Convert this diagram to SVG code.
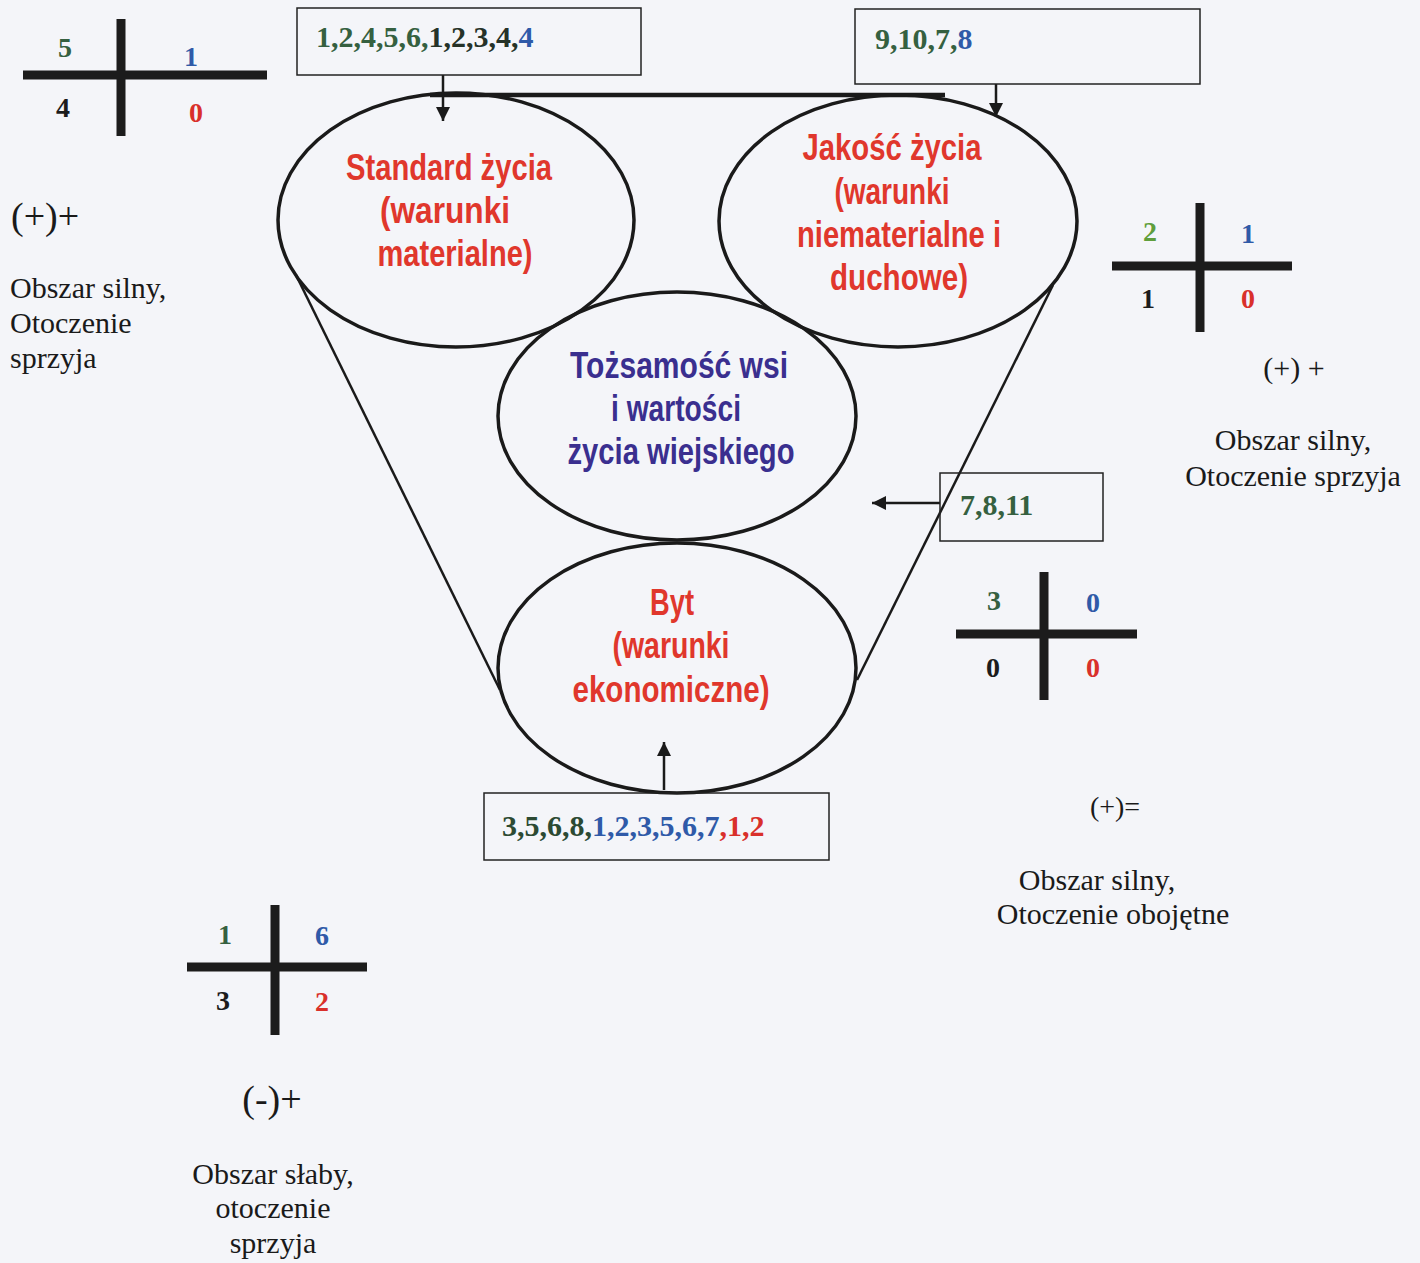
<svg xmlns="http://www.w3.org/2000/svg" width="1420" height="1263" viewBox="0 0 1420 1263">
<style>
.num{font-family:"Liberation Serif","Times New Roman",serif;font-weight:bold;font-size:28px}
.box{fill:none;stroke:#222;stroke-width:1.5}
.bt{font-family:"Liberation Serif","Times New Roman",serif;font-weight:bold;font-size:30px}
.lbl{font-family:"Liberation Serif","Times New Roman",serif;font-size:30px;fill:#1a1a1a}
.el{fill:none;stroke:#1a1a1a;stroke-width:3.5}
.et{font-family:"Liberation Sans",Arial,sans-serif;font-weight:bold;font-size:36px;text-anchor:middle}
.red{fill:#e0372c}
.pur{fill:#3a2f8f}
.g{fill:#356040}
.lg{fill:#5f9e3c}
.b{fill:#2f5aa8}
.k{fill:#1c1c1c}
.r{fill:#d9302b}
.bar{stroke:#1c1c1c;stroke-width:9}
.ln{stroke:#1a1a1a;stroke-width:2.5;fill:none}
</style>
<defs>
<marker id="ah2" viewBox="0 0 10 10" refX="10" refY="5" markerWidth="14" markerHeight="18" markerUnits="userSpaceOnUse" orient="auto">
<path d="M0,0 L10,5 L0,10 z" fill="#1a1a1a"/>
</marker>
</defs>
<rect width="1420" height="1263" fill="#f4f5f9"/>

<g id="connectors">
<line class="ln" x1="430" y1="95" x2="945" y2="95" style="stroke-width:4.5"/>
<line class="ln" x1="296" y1="275" x2="500" y2="690"/>
<line class="ln" x1="1053" y1="285" x2="857" y2="680"/>
<line class="ln" x1="443" y1="75" x2="443" y2="121" marker-end="url(#ah2)"/>
<line class="ln" x1="996" y1="84" x2="996" y2="117" marker-end="url(#ah2)"/>
<line class="ln" x1="940" y1="503" x2="872" y2="503" marker-end="url(#ah2)"/>
<line class="ln" x1="664" y1="790" x2="664" y2="742" marker-end="url(#ah2)"/>
</g>

<g id="node-standard">
<ellipse class="el" cx="456" cy="220" rx="178" ry="127"/>
<text class="et red" x="449" y="180" textLength="206" lengthAdjust="spacingAndGlyphs">Standard życia</text>
<text class="et red" x="445" y="223" textLength="130" lengthAdjust="spacingAndGlyphs">(warunki</text>
<text class="et red" x="455" y="266" textLength="155" lengthAdjust="spacingAndGlyphs">materialne)</text>
</g>

<g id="node-jakosc">
<ellipse class="el" cx="898" cy="221" rx="179" ry="126"/>
<text class="et red" x="892" y="160" textLength="179" lengthAdjust="spacingAndGlyphs">Jakość życia</text>
<text class="et red" x="892" y="204" textLength="115" lengthAdjust="spacingAndGlyphs">(warunki</text>
<text class="et red" x="899" y="247" textLength="204" lengthAdjust="spacingAndGlyphs">niematerialne i</text>
<text class="et red" x="899" y="290" textLength="138" lengthAdjust="spacingAndGlyphs">duchowe)</text>
</g>

<g id="node-tozsamosc">
<ellipse class="el" cx="677" cy="416" rx="179" ry="124"/>
<text class="et pur" x="679" y="378" textLength="218" lengthAdjust="spacingAndGlyphs">Tożsamość wsi</text>
<text class="et pur" x="676" y="421" textLength="130" lengthAdjust="spacingAndGlyphs">i wartości</text>
<text class="et pur" x="681" y="464" textLength="227" lengthAdjust="spacingAndGlyphs">życia wiejskiego</text>
</g>

<g id="node-byt">
<ellipse class="el" cx="677" cy="668" rx="179" ry="125"/>
<text class="et red" x="672" y="615" textLength="44" lengthAdjust="spacingAndGlyphs">Byt</text>
<text class="et red" x="671" y="658" textLength="117" lengthAdjust="spacingAndGlyphs">(warunki</text>
<text class="et red" x="671" y="702" textLength="197" lengthAdjust="spacingAndGlyphs">ekonomiczne)</text>
</g>

<g id="box-standard">
<rect class="box" x="297" y="8" width="344" height="67"/>
<text class="bt" x="316" y="47"><tspan class="g">1,2,4,5,6,</tspan><tspan fill="#253228">1,2,3,4,</tspan><tspan class="b">4</tspan></text>
</g>

<g id="box-jakosc">
<rect class="box" x="855" y="9" width="345" height="75"/>
<text class="bt" x="875" y="49"><tspan class="g">9,10,7,</tspan><tspan class="b">8</tspan></text>
</g>

<g id="box-tozsamosc">
<rect class="box" x="940" y="473" width="163" height="68"/>
<text class="bt g" x="960" y="515">7,8,11</text>
</g>

<g id="box-byt">
<rect class="box" x="484" y="793" width="345" height="67"/>
<text class="bt" x="502" y="836"><tspan fill="#2c4a33">3,5,6,8,</tspan><tspan class="b">1,2,3,5,6,7</tspan><tspan class="r">,1,2</tspan></text>
</g>

<g id="cross-topleft">
<line class="bar" x1="23" y1="75" x2="267" y2="75"/>
<line class="bar" x1="121" y1="19" x2="121" y2="136"/>
<text class="num g" x="58" y="57">5</text>
<text class="num b" x="184" y="66">1</text>
<text class="num k" x="56" y="117">4</text>
<text class="num r" x="189" y="122">0</text>
<text class="lbl" x="11" y="229" style="font-size:38px">(+)+</text>
<text class="lbl" x="10" y="298">Obszar silny,</text>
<text class="lbl" x="10" y="333">Otoczenie</text>
<text class="lbl" x="10" y="368">sprzyja</text>
</g>

<g id="cross-right">
<line class="bar" x1="1112" y1="266" x2="1292" y2="266"/>
<line class="bar" x1="1200" y1="203" x2="1200" y2="332"/>
<text class="num lg" x="1143" y="241">2</text>
<text class="num b" x="1241" y="243">1</text>
<text class="num k" x="1141" y="308">1</text>
<text class="num r" x="1241" y="308">0</text>
<text class="lbl" x="1294" y="378" text-anchor="middle" style="font-size:30px">(+) +</text>
<text class="lbl" x="1293" y="450" text-anchor="middle">Obszar silny,</text>
<text class="lbl" x="1293" y="486" text-anchor="middle">Otoczenie sprzyja</text>
</g>

<g id="cross-mid">
<line class="bar" x1="956" y1="634" x2="1137" y2="634"/>
<line class="bar" x1="1044" y1="572" x2="1044" y2="700"/>
<text class="num g" x="987" y="610">3</text>
<text class="num b" x="1086" y="612">0</text>
<text class="num k" x="986" y="677">0</text>
<text class="num r" x="1086" y="677">0</text>
<text class="lbl" x="1115" y="816" text-anchor="middle" style="font-size:28px">(+)=</text>
<text class="lbl" x="1097" y="890" text-anchor="middle">Obszar silny,</text>
<text class="lbl" x="1113" y="924" text-anchor="middle">Otoczenie obojętne</text>
</g>

<g id="cross-bottom">
<line class="bar" x1="187" y1="967" x2="367" y2="967"/>
<line class="bar" x1="275" y1="905" x2="275" y2="1035"/>
<text class="num g" x="218" y="944">1</text>
<text class="num b" x="315" y="945">6</text>
<text class="num k" x="216" y="1010">3</text>
<text class="num r" x="315" y="1011">2</text>
<text class="lbl" x="272" y="1112" text-anchor="middle" style="font-size:38px">(-)+</text>
<text class="lbl" x="273" y="1184" text-anchor="middle">Obszar słaby,</text>
<text class="lbl" x="273" y="1218" text-anchor="middle">otoczenie</text>
<text class="lbl" x="273" y="1253" text-anchor="middle">sprzyja</text>
</g>
</svg>
